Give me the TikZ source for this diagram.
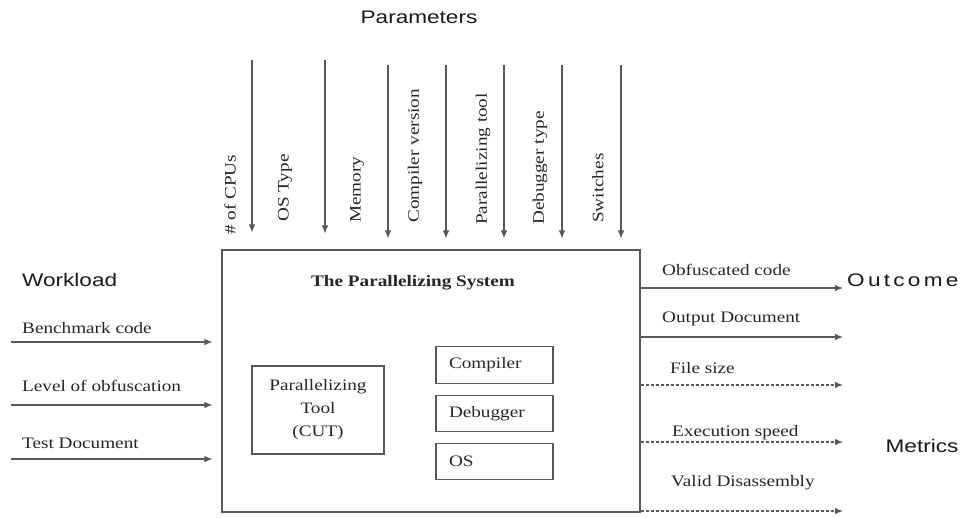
\documentclass[tikz,border=0pt]{standalone}
\usepackage{fontspec}
\setmainfont{Liberation Serif}[FakeStretch=1.2]
\newfontfamily\labsans{Liberation Sans}[FakeStretch=1.24]
\newfontfamily\labsanswide{Liberation Sans}[FakeStretch=1.24,LetterSpace=18]
\usetikzlibrary{arrows.meta}
\tikzset{
  lin/.style={draw=black!65, line width=1.1pt},
  arr/.style={lin, -{Latex[length=8pt,width=6.5pt]}},
  darr/.style={arr, dash pattern=on 3pt off 2pt},
  txt/.style={font=\fontsize{16}{18}\selectfont, text=black!85, inner sep=0pt},
  bigt/.style={font=\labsans\fontsize{18.2}{20}\selectfont, text=black!90, inner sep=0pt},
  vlab/.style={txt, rotate=90, anchor=west},
  box/.style={lin, inner sep=0pt},
  smallbox/.style={box, minimum width=117pt, minimum height=36.5pt, text width=91pt, align=left, inner xsep=13pt, txt},
}
\begin{document}
\begin{tikzpicture}[x=1pt,y=-1pt]
\useasboundingbox (0,0) rectangle (968,517);
% main system box
\node[box, minimum width=418pt, minimum height=262pt] (sys) at (431,381) {};
\node[txt, font=\bfseries\fontsize{16}{18}\selectfont] (title) at (413,283) {The Parallelizing System};
% inner boxes
\node[box, minimum width=132pt, minimum height=88pt, align=center, txt, font=\fontsize{16}{23}\selectfont] (pt) at (318,410) {Parallelizing\\Tool\\(CUT)};
\node[smallbox] (comp) at (494.5,365) {Compiler};
\node[smallbox] (dbg) at (494.5,413.5) {Debugger};
\node[smallbox] (os) at (494.5,461.5) {OS};
% headings
\node[bigt] (params) at (419,17) {Parameters};
\node[bigt, anchor=west] (work) at (22,280) {Workload};
\node[bigt, font=\labsanswide\fontsize{18.2}{20}\selectfont, anchor=west] (outc) at (847,280) {Outcome};
\node[bigt] (metr) at (922,446) {Metrics};
% parameter labels
\node[vlab] (l1) at (230,235) {\# of CPUs};
\node[vlab] (l2) at (285,222) {OS Type};
\node[vlab] (l3) at (357,223) {Memory};
\node[vlab] (l4) at (415,223) {Compiler version};
\node[vlab] (l5) at (483,225) {Parallelizing tool};
\node[vlab] (l6) at (540,225) {Debugger type};
\node[vlab] (l7) at (598,223) {Switches};
% parameter arrows
\coordinate (p1) at (252,60);
\coordinate (p2) at (325,60);
\coordinate (p3) at (388,65);
\coordinate (p4) at (446,65);
\coordinate (p5) at (504,65);
\coordinate (p6) at (562,65);
\coordinate (p7) at (621,65);
\draw[arr, shorten >=17pt] (p1) -- (p1 |- sys.north);
\draw[arr, shorten >=16pt] (p2) -- (p2 |- sys.north);
\foreach \i in {3,...,7} {\draw[arr, shorten >=11pt] (p\i) -- (p\i |- sys.north);}
% workload inputs
\node[txt, anchor=west] (w1) at (22,328) {Benchmark code};
\node[txt, anchor=west] (w2) at (22,386) {Level of obfuscation};
\node[txt, anchor=west] (w3) at (22,443) {Test Document};
\coordinate (i1) at (11,342);
\coordinate (i2) at (11,405);
\coordinate (i3) at (11,459);
\foreach \i in {1,2,3} {\draw[arr, shorten >=9pt] (i\i) -- (i\i -| sys.west);}
% outputs
\node[txt, anchor=west] (o1l) at (662,270) {Obfuscated code};
\node[txt, anchor=west] (o2l) at (662,319) {Output Document};
\node[txt, anchor=west] (o3l) at (670,368) {File size};
\node[txt, anchor=west] (o4l) at (672,433) {Execution speed};
\node[txt, anchor=west] (o5l) at (671,483) {Valid Disassembly};
\coordinate (o1) at (843,288);
\coordinate (o2) at (843,337);
\coordinate (o3) at (843,385);
\coordinate (o4) at (843,442);
\coordinate (o5) at (843,511);
\draw[arr] (o1 -| sys.east) -- (o1);
\draw[arr] (o2 -| sys.east) -- (o2);
\draw[darr] (o3 -| sys.east) -- (o3);
\draw[darr] (o4 -| sys.east) -- (o4);
\draw[darr] (o5 -| sys.east) -- (o5);
\end{tikzpicture}
\end{document}
